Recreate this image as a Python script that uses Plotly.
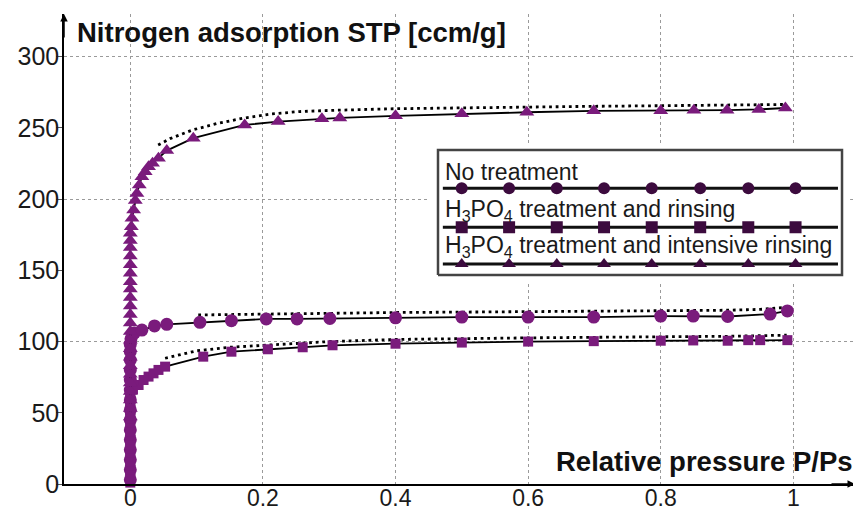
import plotly.graph_objects as go

PURPLE = '#7a1b7c'
LEG_PURPLE = '#3c0b3e'
FONT = 'Liberation Sans, Arial, sans-serif'

# ---- data: No treatment (circles)
nt_x = [0, 0, 0, 0, 0, 0, 0, 0, 0, 0, 0, 0, 0, 0, 0, 0.001,
        0.006, 0.0175, 0.0365, 0.055, 0.105, 0.1525, 0.205, 0.2515, 0.301,
        0.4, 0.5, 0.6, 0.699, 0.8, 0.849, 0.901, 0.965, 0.991]
nt_y = [3, 10, 17, 24, 31, 38, 45, 52, 59, 66, 73, 80, 87, 93, 98, 102,
        106, 108.1, 111, 112.1, 113.5, 114.7, 115.9, 115.9, 116.2,
        116.7, 117.2, 117.2, 117.2, 117.9, 117.9, 117.6, 119.3, 121.5]
nt_des_x = [0.1025, 0.2, 0.3, 0.4, 0.5, 0.6, 0.7, 0.8, 0.9, 0.95, 0.99]
nt_des_y = [118.7, 119.4, 119.8, 120.4, 120.7, 120.9, 121.2, 121.5, 122, 122.6, 124]

# ---- data: H3PO4 treatment and rinsing (squares)
rn_x = [0, 0, 0, 0, 0, 0, 0, 0, 0, 0, 0, 0, 0, 0, 0, 0, 0, 0, 0, 0, 0, 0,
        0.004, 0.0125, 0.02, 0.0275, 0.035, 0.0425, 0.0525, 0.11, 0.1525, 0.2075,
        0.26, 0.305, 0.4, 0.5, 0.6, 0.699, 0.8, 0.849, 0.901, 0.932, 0.95, 0.991]
rn_y = [1, 4, 7, 10, 13, 16, 19, 22, 25, 28, 31, 34, 37, 40, 43, 46, 49, 52, 55, 58, 61, 64,
        66.5, 69.5, 73, 75.4, 77.7, 80.1, 82.4, 89.4, 92.9, 94.6,
        96, 97.4, 98.5, 99.3, 100, 100.3, 100.6, 100.8, 100.6, 101, 101, 101]
rn_des_x = [0.0525, 0.1, 0.15, 0.2, 0.25, 0.3, 0.4, 0.5, 0.6, 0.7, 0.8, 0.9, 0.99]
rn_des_y = [88.3, 93.5, 96, 97.5, 98.8, 100, 101.5, 102.2, 102.6, 103, 103.3, 103.7, 104.5]

# ---- data: H3PO4 treatment and intensive rinsing (triangles)
ir_x = [0, 0, 0, 0, 0, 0, 0, 0, 0, 0, 0, 0, 0, 0, 0, 0, 0, 0, 0, 0, 0, 0, 0,
        0.0015, 0.0025, 0.005, 0.0075, 0.01, 0.0135, 0.0175, 0.0225, 0.0275, 0.0335,
        0.0425, 0.055, 0.095, 0.1725, 0.223, 0.289, 0.316, 0.4, 0.5, 0.598, 0.699,
        0.8, 0.85, 0.9, 0.948, 0.988]
ir_y = [47, 53, 59, 65, 71, 77, 83, 89, 95, 101, 107, 113, 119, 125, 131, 137, 142,
        148, 154, 160, 166, 171, 176,
        180.7, 186.6, 192.4, 199, 204, 210, 215.8, 219.3, 222.8, 225.2,
        228.7, 234.1, 242.8, 252.1, 254.5, 256.5, 257, 258.5, 260, 261, 262,
        262, 262.5, 262.5, 263, 264]
ir_des_x = [0.042, 0.06, 0.094, 0.13, 0.17, 0.213, 0.255, 0.3, 0.4, 0.5, 0.6, 0.7, 0.8, 0.9, 0.99]
ir_des_y = [238, 242.5, 248.6, 253, 256.8, 259.8, 261.5, 262.3, 263.5, 264.2, 264.8, 265.2, 265.6, 266, 266.5]

x_ticks = [0, 0.2, 0.4, 0.6, 0.8, 1]
x_tick_text = ['0', '0.2', '0.4', '0.6', '0.8', '1']
y_ticks = [0, 50, 100, 150, 200, 250, 300]
y_grid = [100, 200, 300]

legend_labels = ['No treatment',
                 'H<sub>3</sub>PO<sub>4</sub> treatment and rinsing',
                 'H<sub>3</sub>PO<sub>4</sub> treatment and intensive rinsing']
legend_symbols = ['circle', 'square', 'triangle-up']
legend_marker_x = [0.0587, 0.176, 0.294, 0.411, 0.529, 0.649, 0.768, 0.885]
legend_text_y = [0.826, 0.52, 0.226]
legend_line_y = [0.694, 0.382, 0.088]

fig = go.Figure()

dot = dict(color='black', width=2.8, dash='2.8px,3.8px')
for dx, dy in [(nt_des_x, nt_des_y), (rn_des_x, rn_des_y), (ir_des_x, ir_des_y)]:
    fig.add_trace(go.Scatter(x=dx, y=dy, mode='lines', line=dot, hoverinfo='skip'))

series = [(nt_x, nt_y, 'circle', 13), (rn_x, rn_y, 'square', 10), (ir_x, ir_y, 'triangle-up', 13)]
for sx, sy, sym, sz in series:
    fig.add_trace(go.Scatter(x=sx, y=sy, mode='lines+markers',
                             line=dict(color='black', width=1.8),
                             marker=dict(symbol=sym, size=sz, color=PURPLE, line=dict(width=0)),
                             cliponaxis=False))

# ---- custom legend on its own axes
fig.add_trace(go.Scatter(x=[0, 1, 1, 0, 0], y=[0, 0, 1, 1, 0], mode='lines', fill='toself',
                         fillcolor='white', line=dict(color='#444', width=2.5),
                         xaxis='x2', yaxis='y2', hoverinfo='skip'))
for ly, sym in zip(legend_line_y, legend_symbols):
    fig.add_trace(go.Scatter(x=[0.012, 0.99], y=[ly, ly], mode='lines',
                             line=dict(color='#111', width=3), xaxis='x2', yaxis='y2'))
    fig.add_trace(go.Scatter(x=legend_marker_x, y=[ly] * len(legend_marker_x), mode='markers',
                             marker=dict(symbol=sym, size=12, color=LEG_PURPLE),
                             xaxis='x2', yaxis='y2'))

annotations = []
for ty, lab in zip(legend_text_y, legend_labels):
    annotations.append(dict(x=0.012, y=ty, xref='x2', yref='y2', text=lab, showarrow=False,
                            xanchor='left', yanchor='middle',
                            font=dict(family=FONT, size=23, color='#1a1a1a')))

annotations.append(dict(x=0.0139, y=0.96, xref='paper', yref='paper',
                        text='<b>Nitrogen adsorption STP [ccm/g]</b>', showarrow=False,
                        xanchor='left', yanchor='middle',
                        font=dict(family=FONT, size=27.5, color='#111')))
annotations.append(dict(x=1.0, y=0.047, xref='paper', yref='paper',
                        text='<b>Relative pressure P/Ps</b>', showarrow=False,
                        xanchor='right', yanchor='middle',
                        font=dict(family=FONT, size=27.5, color='#111')))
# axis arrows
annotations.append(dict(x=0, y=1, xref='paper', yref='paper', ax=0, ay=25, text='',
                        showarrow=True, arrowhead=2, arrowsize=1, arrowwidth=1.5, arrowcolor='black'))
annotations.append(dict(x=1, y=0, xref='paper', yref='paper', ax=-25, ay=0, text='',
                        showarrow=True, arrowhead=2, arrowsize=1, arrowwidth=1.5, arrowcolor='black'))

# the page body has an 8px margin, so the figure is 8px smaller than the window
fig.update_layout(
    width=853, height=504,
    margin=dict(l=56, r=6, t=6, b=28, autoexpand=False),
    paper_bgcolor='white', plot_bgcolor='white',
    showlegend=False,
    font=dict(family=FONT, size=25, color='#1a1a1a'),
    xaxis=dict(range=[-0.1, 1.093], tickvals=x_ticks, ticktext=x_tick_text,
               showgrid=True, gridcolor='#9a9a9a', griddash='dot', gridwidth=1,
               showline=True, linecolor='black', linewidth=1.5,
               ticks='', ticklabelstandoff=-7,
               zeroline=False, fixedrange=True, automargin=False,
               tickfont=dict(family=FONT, size=23, color='#1a1a1a')),
    yaxis=dict(range=[0, 330], tickvals=y_ticks,
               showgrid=False, showline=True, linecolor='black', linewidth=1.5,
               ticks='outside', ticklen=6, tickcolor='#555', ticklabelstandoff=-8,
               zeroline=False, fixedrange=True, automargin=False,
               minor=dict(tickvals=y_grid, showgrid=True, gridcolor='#9a9a9a',
                          griddash='dot', gridwidth=1, ticks=''),
               tickfont=dict(family=FONT, size=25, color='#1a1a1a')),
    xaxis2=dict(domain=[0.4626, 0.9938], range=[-0.02, 1.02], visible=False,
                anchor='y2', fixedrange=True),
    yaxis2=dict(domain=[0.4314, 0.7239], range=[-0.05, 1.05], visible=False,
                anchor='x2', fixedrange=True),
    annotations=annotations,
)

fig.write_html('out.html')
